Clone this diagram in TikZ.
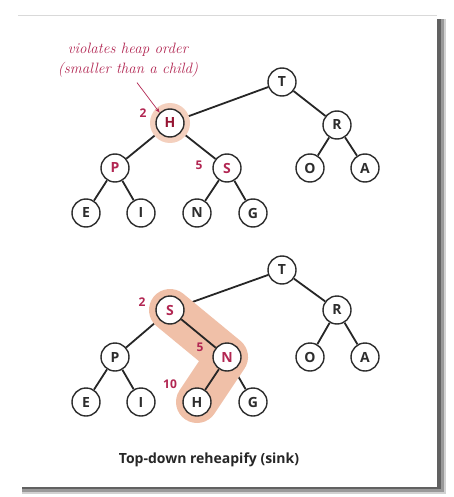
\documentclass[tikz,border=0pt]{standalone}
\usepackage{fontspec}
\setsansfont{Open Sans}
\usetikzlibrary{arrows.meta}
\pgfdeclarelayer{cardlayer}
\pgfdeclarelayer{edgelayer}
\pgfdeclarelayer{marklayer}
\pgfsetlayers{cardlayer,edgelayer,marklayer,main}
\definecolor{heapred}{RGB}{178,38,82}
\definecolor{darkred}{RGB}{150,20,50}
\definecolor{peach}{RGB}{240,192,168}
\definecolor{nodegray}{RGB}{45,45,45}
\begin{document}
\begin{tikzpicture}[x=1pt,y=-1pt,
    key/.style={circle,draw=nodegray,line width=1.4pt,fill=white,minimum size=28pt,inner sep=0pt,
      font=\sffamily\bfseries\fontsize{14}{14}\selectfont,text=nodegray},
    hot/.style={key,text=heapred},
    link/.style={line width=1.8pt,black!85},
    idx/.style={font=\sffamily\bfseries\fontsize{12}{12}\selectfont,text=heapred},
    band/.style={line width=42pt,line cap=round,line join=round,peach}]
\useasboundingbox (0,0) rectangle (453,497);

% card with shadow
\begin{pgfonlayer}{cardlayer}
\fill[black!18] (22,19) rectangle (446,494);
\fill[black!40] (22,19) rectangle (444,492);
\fill[black!62] (22,19) rectangle (441,489);
\fill[white] (18,15) rectangle (437,487);
\draw[black!15] (18,15) -- (437,15);
\end{pgfonlayer}

% top tree
\node[key,text=darkred] (tH) at (170,123) {H};
\node[key] (tT) at (282,82) {T};
\node[key] (tR) at (337,125) {R};
\node[hot] (tP) at (115,168) {P};
\node[hot] (tS) at (227,168) {S};
\node[key] (tO) at (310,168) {O};
\node[key] (tA) at (365,168) {A};
\node[key] (tE) at (86,213) {E};
\node[key] (tI) at (141,213) {I};
\node[key] (tN) at (197,213) {N};
\node[key] (tG) at (253,213) {G};
\node[idx] (tHidx) at (143,113) {2};
\node[idx] (tSidx) at (199,165) {5};
\node[font=\itshape\fontsize{15}{20}\selectfont,text=heapred,align=center] (note) at (128,60)
  {violates heap order\\(smaller than a child)};

\begin{pgfonlayer}{edgelayer}
\draw[link] (tT) -- (tH);
\draw[link] (tT) -- (tR);
\draw[link] (tH) -- (tP);
\draw[link] (tH) -- (tS);
\draw[link] (tP) -- (tE);
\draw[link] (tP) -- (tI);
\draw[link] (tS) -- (tN);
\draw[link] (tS) -- (tG);
\draw[link] (tR) -- (tO);
\draw[link] (tR) -- (tA);
\end{pgfonlayer}
\begin{pgfonlayer}{marklayer}
\fill[peach!75] (tH.center) circle (20);
\end{pgfonlayer}
\draw[-{Stealth[length=5pt]},heapred,line width=0.7pt] (note.south) ++(9,2) coordinate (tip0) -- (tH.north west);

% bottom tree
\node[hot] (bS) at (170,310) {S};
\node[key] (bT) at (282,270) {T};
\node[key] (bR) at (337,310) {R};
\node[key] (bP) at (115,357) {P};
\node[hot] (bN) at (227,357) {N};
\node[key] (bO) at (310,357) {O};
\node[key] (bA) at (365,357) {A};
\node[key] (bE) at (86,402) {E};
\node[key] (bI) at (141,402) {I};
\node[key] (bH) at (197,402) {H};
\node[key] (bG) at (253,402) {G};
\node[idx] (bSidx) at (142,302) {2};
\node[idx] (bNidx) at (200,347) {5};
\node[idx] (bHidx) at (170,384) {10};

\begin{pgfonlayer}{edgelayer}
\draw[link] (bT) -- (bS);
\draw[link] (bT) -- (bR);
\draw[link] (bS) -- (bP);
\draw[link] (bP) -- (bE);
\draw[link] (bP) -- (bI);
\draw[link] (bN) -- (bG);
\draw[link] (bR) -- (bO);
\draw[link] (bR) -- (bA);
\end{pgfonlayer}
\begin{pgfonlayer}{marklayer}
\draw[band] (bS.center) -- (bN.center) -- (bH.center);
\draw[link] (bS) -- (bN);
\draw[link] (bN) -- (bH);
\end{pgfonlayer}

\node[font=\sffamily\bfseries\fontsize{14}{14}\selectfont,text=black!85] (caption) at (209,460)
  {Top-down reheapify (sink)};
\end{tikzpicture}
\end{document}
